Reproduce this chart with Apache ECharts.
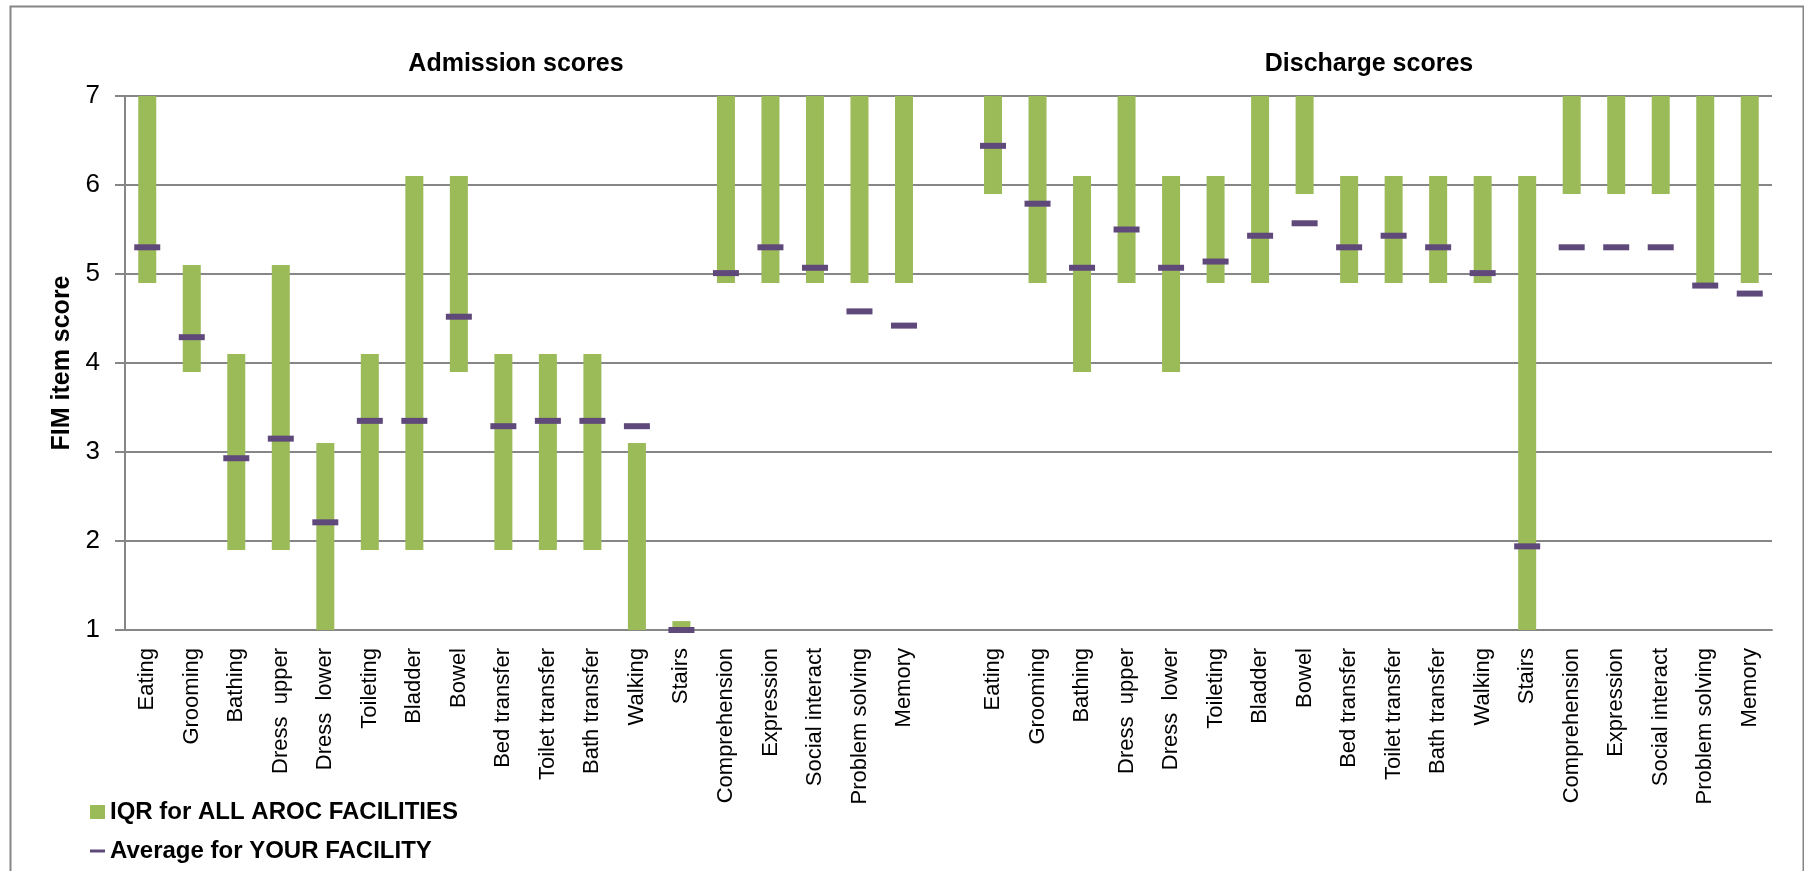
<!DOCTYPE html>
<html><head><meta charset="utf-8">
<script src="https://cdn.jsdelivr.net/npm/echarts@6/dist/echarts.min.js"></script>
<style>html,body{margin:0;padding:0;background:#fff}#c{width:1804px;height:871px}</style>
</head><body><div id="c"></div>
<script>
// FIM items (same list used for admission and discharge)
const items = ['Eating','Grooming','Bathing','Dress  upper','Dress  lower','Toileting','Bladder','Bowel','Bed transfer','Toilet transfer','Bath transfer','Walking','Stairs','Comprehension','Expression','Social interact','Problem solving','Memory'];

// Admission: IQR (all AROC facilities) and your facility's average
const admQ1  = [4.9, 3.9, 1.9, 1.9, 1.0, 1.9, 1.9, 3.9, 1.9, 1.9, 1.9, 1.0, 1.0, 4.9, 4.9, 4.9, 4.9, 4.9];
const admQ3  = [7.0, 5.1, 4.1, 5.1, 3.1, 4.1, 6.1, 6.1, 4.1, 4.1, 4.1, 3.1, 1.1, 7.0, 7.0, 7.0, 7.0, 7.0];
const admAvg = [5.30, 4.29, 2.93, 3.15, 2.21, 3.35, 3.35, 4.52, 3.29, 3.35, 3.35, 3.29, 1.00, 5.01, 5.30, 5.07, 4.58, 4.42];

// Discharge
const disQ1  = [5.9, 4.9, 3.9, 4.9, 3.9, 4.9, 4.9, 5.9, 4.9, 4.9, 4.9, 4.9, 1.0, 5.9, 5.9, 5.9, 4.9, 4.9];
const disQ3  = [7.0, 7.0, 6.1, 7.0, 6.1, 6.1, 7.0, 7.0, 6.1, 6.1, 6.1, 6.1, 6.1, 7.0, 7.0, 7.0, 7.0, 7.0];
const disAvg = [6.44, 5.79, 5.07, 5.50, 5.07, 5.14, 5.43, 5.57, 5.30, 5.43, 5.30, 5.01, 1.94, 5.30, 5.30, 5.30, 4.87, 4.78];

const yTicks = [1, 2, 3, 4, 5, 6, 7];
const titles = ['Admission scores', 'Discharge scores'];
const legendNames = ['IQR for ALL AROC FACILITIES', 'Average for YOUR FACILITY'];

// build combined category axis with an empty gap between the two groups
const categories = items.concat([''], items);
const q1 = admQ1.concat([null], disQ1);
const iqr = admQ3.map((v, i) => +(v - admQ1[i]).toFixed(2)).concat([null], disQ3.map((v, i) => +(v - disQ1[i]).toFixed(2)));
const avg = admAvg.concat([null], disAvg);

const SANS = "'Liberation Sans', Arial, sans-serif";
const GREY = '#868686';
const GREEN = '#9BBB59';
const PURPLE = '#5F497A';

const chart = echarts.init(document.getElementById('c'), null, { renderer: 'canvas' });
chart.setOption({
  animation: false,
  backgroundColor: '#fff',
  graphic: [{
    type: 'rect', left: 8, top: 4, silent: true,
    shape: { width: 1793, height: 900 },
    style: { fill: 'none', stroke: GREY, lineWidth: 2 }
  }],
  title: [
    { text: titles[0], left: 511, top: 47, textAlign: 'center',
      textStyle: { fontFamily: SANS, fontSize: 25, fontWeight: 'bold', color: '#000' } },
    { text: titles[1], left: 1364, top: 47, textAlign: 'center',
      textStyle: { fontFamily: SANS, fontSize: 25, fontWeight: 'bold', color: '#000' } }
  ],
  legend: {
    orient: 'vertical', left: 85, top: 794, itemWidth: 15, itemHeight: 14, itemGap: 13,
    selectedMode: false,
    textStyle: { fontFamily: SANS, fontSize: 24, fontWeight: 'bold', color: '#000', lineHeight: 26 },
    data: [
      { name: legendNames[0], icon: 'rect' },
      { name: legendNames[1], icon: 'path://M0 0H20V4H0Z' }
    ]
  },
  grid: { left: 125, right: 32, top: 96, bottom: 241 },
  xAxis: {
    type: 'category', data: categories, boundaryGap: true,
    axisLine: { lineStyle: { color: GREY, width: 2 } },
    axisTick: { show: false },
    axisLabel: { rotate: 90, interval: 0, margin: 18, fontFamily: SANS, fontSize: 22, color: '#000' }
  },
  yAxis: {
    type: 'value', min: yTicks[0], max: yTicks[yTicks.length - 1], interval: 1,
    name: 'FIM item score', nameLocation: 'middle', nameGap: 50, nameRotate: 90,
    nameMoveOverlap: false,
    nameTextStyle: { fontFamily: SANS, fontSize: 25, fontWeight: 'bold', color: '#000' },
    axisLine: { show: true, lineStyle: { color: GREY, width: 2 } },
    axisTick: { show: true, length: 10, lineStyle: { color: GREY, width: 2 } },
    splitLine: { lineStyle: { color: GREY, width: 2 } },
    axisLabel: { margin: 25, fontFamily: SANS, fontSize: 26, color: '#000' }
  },
  series: [
    { name: 'base', type: 'bar', stack: 'iqr', data: q1, barWidth: 18, silent: true,
      itemStyle: { color: 'rgba(0,0,0,0)' } },
    { name: legendNames[0], type: 'bar', stack: 'iqr', data: iqr, barWidth: 18,
      itemStyle: { color: GREEN } },
    { name: legendNames[1], type: 'scatter', data: avg, symbol: 'rect', symbolSize: [26, 6], z: 5,
      itemStyle: { color: PURPLE, opacity: 1 } }
  ]
});
</script>
</body></html>
